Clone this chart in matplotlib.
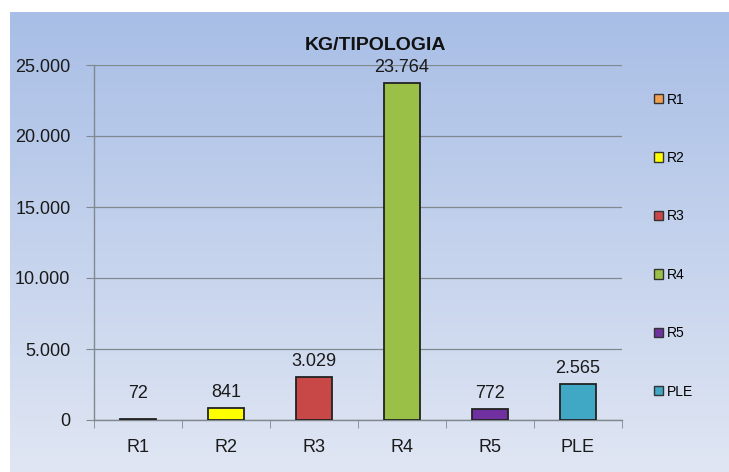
import numpy as np
import matplotlib
matplotlib.use('Agg')
import matplotlib.pyplot as plt
from matplotlib.patches import Patch

# Data
categories = ['R1', 'R2', 'R3', 'R4', 'R5', 'PLE']
values = [72, 841, 3029, 23764, 772, 2565]
value_labels = ['72', '841', '3.029', '23.764', '772', '2.565']
bar_colors = ['#f0a050', '#ffff00', '#c84848', '#9bc048', '#7030a0', '#40a8c4']
yticks = [0, 5000, 10000, 15000, 20000, 25000]
ytick_labels = ['0', '5.000', '10.000', '15.000', '20.000', '25.000']

plt.rcParams['font.family'] = ['Liberation Sans', 'DejaVu Sans']

fig = plt.figure(figsize=(7.29, 4.72), dpi=100)

# Gradient background panel (white strip on top and left)
bg = fig.add_axes([10 / 729, 0, 1 - 10 / 729, 1 - 12 / 472])
bg.set_axis_off()
top = np.array([0xa8, 0xbe, 0xe6]) / 255
bot = np.array([0xe0, 0xe6, 0xf3]) / 255
t = np.linspace(0, 1, 256)[:, None]
grad = top[None, :] * (1 - t) + bot[None, :] * t
bg.imshow(grad[:, None, :], aspect='auto', extent=[0, 1, 0, 1])
bg.set_zorder(0)

ax = fig.add_axes([94 / 729, 1 - 420 / 472, (622 - 94) / 729, (420 - 65) / 472])
ax.set_zorder(1)
ax.patch.set_alpha(0)

x = np.arange(len(categories))
ax.bar(x, values, width=0.42, color=bar_colors, edgecolor='#222222',
       linewidth=1.3, zorder=3)

# labels of very small bars sit at a minimum height, as in the original
label_floor = 800
for xi, v, lab in zip(x, values, value_labels):
    ax.annotate(lab, (xi, max(v, label_floor)), xytext=(0, 5), textcoords='offset points',
                ha='center', va='bottom', fontsize=13, color='#1a1a1a')

ax.set_xlim(-0.5, len(categories) - 0.5)
ax.set_ylim(0, 25000)
ax.set_yticks(yticks)
ax.set_yticklabels(ytick_labels, fontsize=13, color='#1a1a1a')
ax.yaxis.grid(True, color='#808890', linewidth=0.9, zorder=1)
ax.set_axisbelow(True)

ax.set_xticks(x)
ax.set_xticklabels(categories, fontsize=13, color='#1a1a1a')
ax.set_xticks(np.arange(-0.5, len(categories)), minor=True)
ax.tick_params(axis='x', which='major', length=0, pad=14)
ax.tick_params(axis='x', which='minor', length=6, color='#808890', direction='out')
ax.tick_params(axis='y', length=6, color='#808890', direction='out', pad=11)

for s in ['top', 'right']:
    ax.spines[s].set_visible(False)
for s in ['left', 'bottom']:
    ax.spines[s].set_color('#808890')
    ax.spines[s].set_linewidth(1.0)

fig.text(376 / 729, 1 - 46 / 472, 'KG/TIPOLOGIA', ha='center', va='center',
         fontsize=14, fontweight='bold', color='#111111')

handles = [Patch(facecolor=c, edgecolor='#333333', linewidth=1.0) for c in bar_colors]
fig.legend(handles, categories, loc='upper left', bbox_to_anchor=(641 / 729, 1 - 80 / 472),
           frameon=False, labelspacing=3.2, handlelength=0.65, handleheight=0.65,
           handletextpad=0.3, prop={'size': 10})

fig.savefig('out.png', dpi=100)
